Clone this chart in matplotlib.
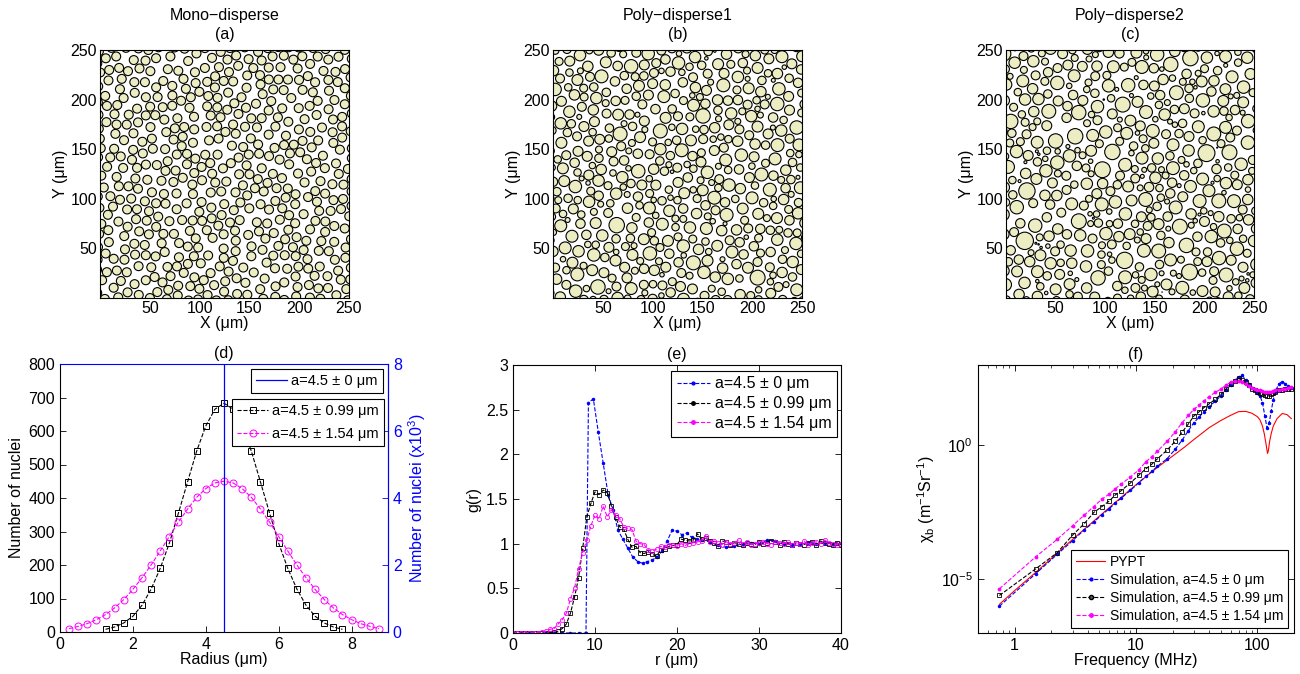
import matplotlib
matplotlib.use('Agg')
import matplotlib.pyplot as plt
import numpy as np
from matplotlib.collections import PatchCollection
from matplotlib.patches import Circle

plt.rcParams['font.family'] = ['Liberation Sans', 'DejaVu Sans']
plt.rcParams['mathtext.default'] = 'regular'
plt.rcParams['font.size'] = 11.5

# ---- (d) radius histograms
radius_bins = [0.25, 0.5, 0.75, 1.0, 1.25, 1.5, 1.75, 2.0, 2.25, 2.5, 2.75, 3.0, 3.25, 3.5,
               3.75, 4.0, 4.25, 4.5, 4.75, 5.0, 5.25, 5.5, 5.75, 6.0, 6.25, 6.5, 6.75, 7.0,
               7.25, 7.5, 7.75, 8.0, 8.25, 8.5, 8.75]
count_099 = [0, 0, 0, 0, 8, 15, 27, 47, 80, 128, 190, 265, 355, 448, 540, 615, 665, 683,
             665, 615, 540, 448, 355, 265, 190, 128, 80, 47, 27, 15, 8, 0, 0, 0, 0]
count_154 = [10, 17, 25, 37, 52, 72, 97, 127, 162, 200, 242, 285, 328, 367, 402, 428, 445, 450,
             445, 428, 402, 367, 328, 285, 242, 200, 162, 127, 97, 72, 52, 37, 25, 17, 10]
mono_radius = 4.5
mono_count_k = 8.0  # x10^3

# ---- (e) pair correlation g(r)
r_sim = np.arange(0, 40.01, 0.5)
g_099 = [0, 0, 0, 0, 0, 0, 0, 0, 0.002, 0.005, 0.01, 0.02, 0.05, 0.1, 0.22, 0.4, 0.62, 0.95,
         1.3, 1.45, 1.58, 1.55, 1.6, 1.57, 1.42, 1.3, 1.19, 1.16, 1.05, 0.96, 0.97, 0.9, 0.89,
         0.91, 0.88, 0.86, 0.93, 0.94, 0.97, 0.98, 0.99, 1.05, 1.04, 1.03, 1.04, 1.11, 1.05,
         1.06, 1.03, 1.01, 0.97, 1.03, 1.02, 0.99, 1.01, 1.0, 0.98, 1.01, 1.0, 0.99, 1.02, 1.0,
         1.01, 1.03, 1.02, 0.99, 1.02, 1.0, 0.99, 1.01, 1.0, 0.99, 1.01, 1.02, 0.99, 1.03,
         1.01, 1.0, 0.99, 1.01, 0.99]
g_154 = [0, 0, 0, 0, 0, 0.002, 0.005, 0.01, 0.02, 0.04, 0.05, 0.1, 0.15, 0.22, 0.38, 0.5,
         0.72, 0.9, 1.04, 1.2, 1.32, 1.28, 1.42, 1.3, 1.38, 1.32, 1.28, 1.19, 1.17, 1.16, 1.03,
         1.0, 0.99, 0.93, 0.92, 0.94, 0.97, 0.96, 0.99, 0.98, 0.97, 1.0, 0.98, 1.0, 1.01, 1.02,
         1.03, 1.09, 1.02, 1.03, 1.01, 0.99, 1.02, 1.0, 1.01, 1.04, 1.0, 1.02, 0.99, 1.0, 1.01,
         1.02, 1.0, 0.99, 1.02, 1.01, 1.0, 1.02, 0.99, 1.01, 1.0, 1.03, 0.98, 1.01, 1.02, 1.0,
         1.04, 1.01, 1.0, 0.99, 1.0]
r_mono = [0, 1, 2, 3, 4, 5, 6, 7, 8, 8.9, 9.2, 9.8, 10.4, 11.0, 11.6, 12.2, 12.8, 13.4, 14.0,
          14.6, 15.2, 15.8, 16.4, 17.0, 17.6, 18.2, 18.8, 19.4, 20.0, 20.6, 21.2, 21.8, 22.4,
          23, 24, 25, 26, 27, 28, 29, 30, 31, 32, 33, 34, 35, 36, 37, 38, 39, 40]
g_mono = [0, 0, 0, 0, 0, 0, 0, 0, 0, 0, 2.58, 2.62, 2.25, 1.9, 1.55, 1.38, 1.15, 1.05, 0.95,
          0.85, 0.8, 0.78, 0.8, 0.82, 0.85, 0.92, 1.03, 1.15, 1.14, 1.1, 1.12, 1.07, 1.05,
          1.04, 1.02, 0.98, 0.96, 0.97, 1.0, 1.01, 1.0, 1.04, 1.03, 1.0, 0.99, 1.0, 1.01, 1.0,
          1.01, 1.0, 1.01]

# ---- (f) backscatter coefficient, log10 values
f_pypt = [0.75, 1, 1.5, 2, 3, 5, 7.5, 10, 15, 20, 25, 30, 40, 50, 60, 70, 80, 90, 100, 105,
          110, 114, 118, 121, 123, 126, 130, 135, 145, 160, 175, 190]
log_pypt = [-5.93, -5.42, -4.73, -4.23, -3.51, -2.64, -1.95, -1.47, -0.82, -0.40, -0.07, 0.22,
            0.66, 0.93, 1.12, 1.26, 1.27, 1.2, 1.07, 0.95, 0.72, 0.42, 0.02, -0.3, -0.2, 0.15,
            0.45, 0.72, 1.0, 1.19, 1.15, 1.0]
f_sim = [0.75, 1.5, 2.25, 3, 3.75, 4.5, 5.25, 6, 6.75, 7.5, 9, 10.5, 12, 13.5, 15, 18, 21, 24,
         27, 30, 33, 36, 40, 45, 50, 55, 60, 65, 70, 75, 80, 85, 90, 95, 100, 105, 110, 115,
         120, 125, 130, 135, 140, 150, 160, 170, 180, 190]
log_sim_0 = [-6.0, -4.78, -4.06, -3.56, -3.15, -2.86, -2.58, -2.37, -2.15, -1.98, -1.68, -1.40,
             -1.16, -0.97, -0.78, -0.5, -0.15, 0.2, 0.55, 0.85, 1.05, 1.25, 1.45, 1.65, 1.85,
             2.05, 2.25, 2.45, 2.55, 2.62, 2.45, 2.3, 2.15, 2.05, 1.95, 1.85, 1.6, 1.1, 0.65,
             0.85, 1.3, 1.7, 2.0, 2.3, 2.38, 2.3, 2.2, 2.15]
log_sim_099 = [-5.6, -4.6, -4.0, -3.35, -2.92, -2.5, -2.28, -2.08, -1.85, -1.7, -1.4, -1.12,
               -0.88, -0.7, -0.5, -0.18, 0.15, 0.5, 0.8, 1.1, 1.25, 1.4, 1.55, 1.72, 1.9, 2.1,
               2.3, 2.42, 2.5, 2.45, 2.35, 2.25, 2.12, 2.05, 2.0, 1.95, 1.9, 1.88, 1.85, 1.85,
               1.9, 1.95, 1.98, 2.05, 2.08, 2.1, 2.1, 2.12]
log_sim_154 = [-5.35, -4.15, -3.5, -3.0, -2.6, -2.28, -2.0, -1.82, -1.62, -1.45, -1.18, -0.92,
               -0.62, -0.42, -0.22, 0.15, 0.5, 0.85, 1.12, 1.35, 1.5, 1.65, 1.82, 1.98, 2.1,
               2.25, 2.35, 2.4, 2.4, 2.35, 2.28, 2.22, 2.15, 2.1, 2.08, 2.05, 2.03, 2.0, 1.98,
               1.98, 2.0, 2.02, 2.05, 2.08, 2.1, 2.12, 2.15, 2.18]

lab_0 = 'a=4.5 ± 0 μm'
lab_099 = 'a=4.5 ± 0.99 μm'
lab_154 = 'a=4.5 ± 1.54 μm'

W, H = 1300, 674
fig = plt.figure(figsize=(W / 100, H / 100), dpi=100)


def rect(l, t, r, b):
    return [l / W, 1 - b / H, (r - l) / W, (b - t) / H]


def radii_from_hist(counts, n):
    # radii drawn in proportion to the histogram of panel (d)
    c = np.array(counts, float)
    k = np.round(c / c.sum() * n).astype(int)
    return np.repeat(radius_bins, k)


def pack(radii, seed, size=250.0, gap=0.4):
    # the nuclei positions are a simulated random packing that cannot be read off
    # the picture; a seeded sequential addition stands in for it
    rng = np.random.default_rng(seed)
    radii = np.sort(radii)[::-1]
    xs = np.zeros(len(radii)); ys = np.zeros(len(radii)); rs = np.zeros(len(radii))
    n = 0
    for r in radii:
        for _ in range(4000):
            x, y = rng.uniform(-3, size + 3, 2)
            if n == 0 or np.all(np.hypot(xs[:n] - x, ys[:n] - y) > rs[:n] + r + gap):
                xs[n], ys[n], rs[n] = x, y, r
                n += 1
                break
    return xs[:n], ys[:n], rs[:n]


def style(ax):
    ax.tick_params(direction='in', top=True, right=True, length=4, width=0.6, labelsize=11.5)
    for s in ax.spines.values():
        s.set_linewidth(0.8)


def legend(ax, handles, labels, fs, spacing, **kw):
    lg = ax.legend(handles, labels, fancybox=False, edgecolor='black', framealpha=1,
                   fontsize=fs, borderaxespad=0, handlelength=2.1, handletextpad=0.3,
                   labelspacing=spacing, borderpad=0.35, **kw)
    lg.get_frame().set_linewidth(0.8)
    return lg


tops = [('Mono−disperse\n(a)', np.full(520, mono_radius), 1, 100, 349),
        ('Poly−disperse1\n(b)', radii_from_hist(count_099, 500), 2, 553, 802),
        ('Poly−disperse2\n(c)', radii_from_hist(count_154, 470), 3, 1006, 1254)]
for title, rad, seed, l, r in tops:
    ax = fig.add_axes(rect(l, 50, r, 298))
    xs, ys, rs = pack(rad, seed)
    pc = PatchCollection([Circle((x, y), rr) for x, y, rr in zip(xs, ys, rs)],
                         facecolor='#EDEDC4', edgecolor='black', linewidth=0.8)
    ax.add_collection(pc)
    ax.set_xlim(0, 250)
    ax.set_ylim(0, 250)
    ax.set_xticks([50, 100, 150, 200, 250])
    ax.set_yticks([50, 100, 150, 200, 250])
    style(ax)
    ax.tick_params(length=0, pad=2)
    ax.set_xlabel('X (μm)', labelpad=0)
    ax.set_ylabel('Y (μm)', labelpad=2)
    ax.set_title(title, fontsize=11.5, pad=8, linespacing=1.35)

# ---- (d)
ax = fig.add_axes(rect(60, 364, 388, 632))
l1, = ax.plot(radius_bins[4:31], count_099[4:31], 'k--s', mfc='none', ms=4.5, lw=0.8, mew=0.7)
l2, = ax.plot(radius_bins, count_154, '--o', color='#FF00FF', mfc='none', ms=5, lw=0.8, mew=0.7)
ax.set_xlim(0, 9)
ax.set_ylim(0, 800)
ax.set_xticks([0, 2, 4, 6, 8])
ax.set_yticks(np.arange(0, 801, 100))
ax.tick_params(direction='in', length=4, width=0.6, labelsize=11.5)
ax.spines['top'].set_visible(False)
for s in ax.spines.values():
    s.set_linewidth(0.8)
ax.set_xlabel('Radius (μm)', labelpad=0)
ax.set_ylabel('Number of nuclei', labelpad=3)
ax.set_title('(d)', fontsize=11.5, pad=4)
ax2 = ax.twinx()
l0, = ax2.plot([mono_radius, mono_radius], [0, mono_count_k], color='#0000FF', lw=0.9)
ax2.set_ylim(0, 8)
ax2.set_yticks([0, 2, 4, 6, 8])
ax2.tick_params(direction='in', length=4, width=0.6, colors='#0000FF', labelsize=11.5)
ax2.spines['right'].set_color('#0000FF')
ax2.spines['top'].set_color('#0000FF')
ax2.spines['left'].set_visible(False)
ax2.spines['bottom'].set_visible(False)
for s in ax2.spines.values():
    s.set_linewidth(0.8)
ax2.set_ylabel('Number of nuclei (x10$^3$)', color='#0000FF', labelpad=3)
lg1 = legend(ax2, [l0], [lab_0], 10.5, 0.5, loc='upper right', bbox_to_anchor=(0.985, 0.981))
lg2 = legend(ax2, [l1, l2], [lab_099, lab_154], 10.5, 0.6, loc='upper right',
             bbox_to_anchor=(0.988, 0.869))
ax2.add_artist(lg1)

# ---- (e)
ax = fig.add_axes(rect(513, 365, 841, 633))
e0, = ax.plot(r_mono, g_mono, '--.', color='#0000FF', ms=3, lw=0.8)
e1, = ax.plot(r_sim, g_099, 'k--s', mfc='none', ms=3, lw=0.8, mew=0.6)
e2, = ax.plot(r_sim, g_154, '--o', color='#FF00FF', mfc='none', ms=3, lw=0.8, mew=0.6)
ax.set_xlim(0, 40)
ax.set_ylim(0, 3)
ax.set_xticks([0, 10, 20, 30, 40])
ax.set_yticks([0, 0.5, 1, 1.5, 2, 2.5, 3])
ax.set_yticklabels(['0', '0.5', '1', '1.5', '2', '2.5', '3'])
style(ax)
ax.set_xlabel('r (μm)', labelpad=0)
ax.set_ylabel('g(r)', labelpad=3)
ax.set_title('(e)', fontsize=11.5, pad=4)
h_e = [plt.Line2D([], [], ls='--', marker='.', color='#0000FF', ms=4, lw=0.8),
       plt.Line2D([], [], ls='--', marker='.', color='black', ms=5, lw=0.8),
       plt.Line2D([], [], ls='--', marker='.', color='#FF00FF', ms=5, lw=0.8)]
legend(ax, h_e, [lab_0, lab_099, lab_154], 11.5, 0.3, loc='upper right',
       bbox_to_anchor=(0.988, 0.978))

# ---- (f)
ax = fig.add_axes(rect(978, 365, 1294, 633))
f0, = ax.loglog(f_pypt, 10.0 ** np.array(log_pypt), '-', color='#FF0000', lw=0.8)
f1, = ax.loglog(f_sim, 10.0 ** np.array(log_sim_0), '--.', color='#0000FF', ms=3, lw=0.8)
f2, = ax.loglog(f_sim, 10.0 ** np.array(log_sim_099), 'k--s', mfc='none', ms=3, lw=0.8, mew=0.6)
f3, = ax.loglog(f_sim, 10.0 ** np.array(log_sim_154), '--.', color='#FF00FF', ms=3.5, lw=0.8)
ax.set_xlim(0.5, 200)
ax.set_ylim(1e-7, 1e3)
ax.set_xticks([1, 10, 100])
ax.set_xticklabels(['1', '10', '100'])
ax.set_yticks([1e-5, 1e0])
ax.yaxis.set_minor_locator(matplotlib.ticker.NullLocator())
style(ax)
ax.tick_params(which='minor', direction='in', top=True, length=2, width=0.5)
ax.set_xlabel('Frequency (MHz)', labelpad=0)
ax.set_ylabel('$\\chi_b$ (m$^{-1}$Sr$^{-1}$)', labelpad=3)
ax.set_title('(f)', fontsize=11.5, pad=4)
h_f = [f0,
       plt.Line2D([], [], ls='--', marker='.', color='#0000FF', ms=4, lw=0.8),
       plt.Line2D([], [], ls='--', marker='o', color='black', mfc='#555555', ms=3, lw=0.8),
       plt.Line2D([], [], ls='--', marker='.', color='#FF00FF', ms=5, lw=0.8)]
legend(ax, h_f, ['PYPT', 'Simulation, ' + lab_0, 'Simulation, ' + lab_099,
                 'Simulation, ' + lab_154], 10, 0.3, loc='lower right',
       bbox_to_anchor=(0.981, 0.019))

fig.savefig('out.png', dpi=100)
